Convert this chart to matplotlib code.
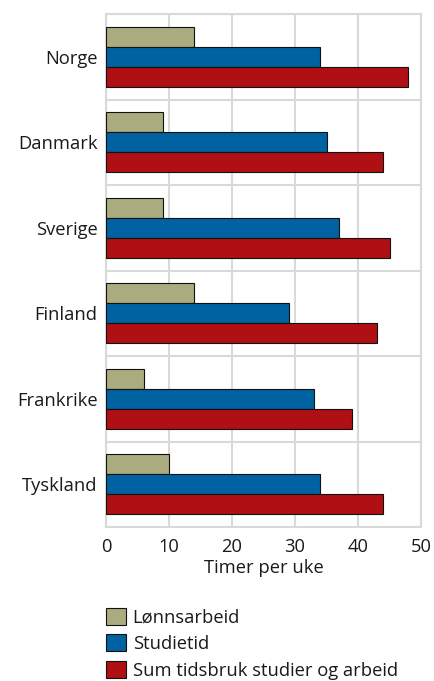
import matplotlib
matplotlib.use("Agg")
import matplotlib.pyplot as plt
import numpy as np
from matplotlib.patches import Patch

countries = ["Norge", "Danmark", "Sverige", "Finland", "Frankrike", "Tyskland"]
lonnsarbeid = [14, 9, 9, 14, 6, 10]
studietid = [34, 35, 37, 29, 33, 34]
sum_tid = [48, 44, 45, 43, 39, 44]
series_names = ["Lønnsarbeid", "Studietid", "Sum tidsbruk studier og arbeid"]
colors = ["#aaac80", "#0062a0", "#b01013"]
xticks = [0, 10, 20, 30, 40, 50]
xlabel = "Timer per uke"

plt.rcParams['font.family'] = ['Open Sans', 'DejaVu Sans']
txtcol = "#1a1a1a"
fs = 13.2

fig = plt.figure(figsize=(4.34, 6.81), dpi=100)
ax = fig.add_axes([106/434, 1-527/681, (421-106)/434, (527-14)/681])

n = len(countries)
y = np.arange(n)
h = 0.234
for i, (vals, col) in enumerate(zip([lonnsarbeid, studietid, sum_tid], colors)):
    ax.barh(y + (i - 1) * h, vals, height=h, color=col, edgecolor="#111111",
            linewidth=0.8, zorder=3)

ax.set_xlim(0, 50)
ax.set_ylim(n - 0.5, -0.5)
ax.set_xticks(xticks)
ax.set_yticks(y)
ax.set_yticklabels(countries)
ax.set_yticks(np.arange(n + 1) - 0.5, minor=True)
ax.grid(axis='x', which='major', color="#d9d9d9", linewidth=1.5, zorder=0)
ax.grid(axis='y', which='minor', color="#d9d9d9", linewidth=1.5, zorder=0)
ax.tick_params(axis='both', which='both', length=0, labelsize=fs, colors=txtcol)
ax.tick_params(axis='y', pad=6)
ax.tick_params(axis='x', pad=8)
for s in ax.spines.values():
    s.set_color("#d9d9d9")
    s.set_linewidth(1.5)
ax.set_xlabel(xlabel, fontsize=fs, color=txtcol, labelpad=2)

handles = [Patch(facecolor=c, edgecolor="#111111", linewidth=0.8) for c in colors]
fig.legend(handles, series_names, loc="upper left",
           bbox_to_anchor=(106/434, 1-608/681), frameon=False, fontsize=fs,
           handlelength=1.09, handleheight=1.04, handletextpad=0.36,
           labelspacing=0.42, borderaxespad=0, borderpad=0, labelcolor=txtcol)

fig.savefig("out.png", dpi=100)
